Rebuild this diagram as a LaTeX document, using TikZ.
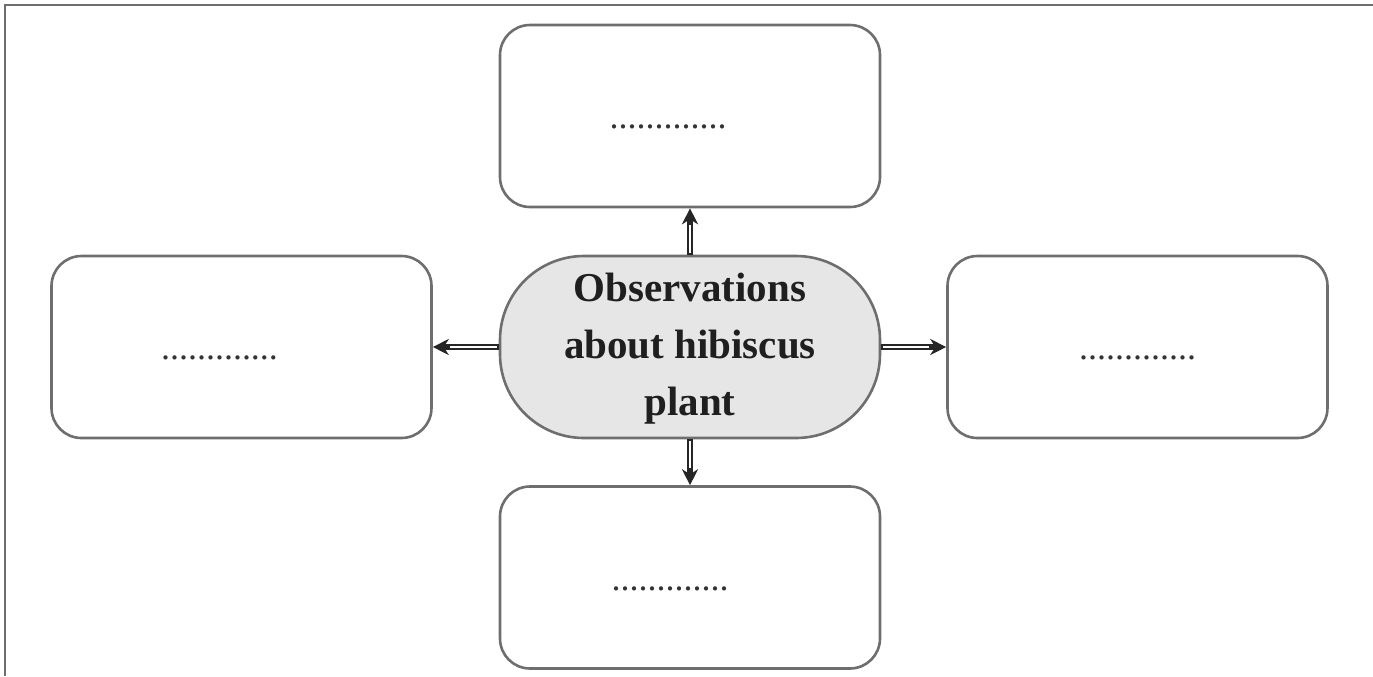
\documentclass[tikz,border=0pt]{standalone}
\usepackage{fontspec}
\setmainfont{Liberation Serif}
\usetikzlibrary{arrows.meta}
\definecolor{edge}{HTML}{6E6E6E}
\definecolor{centerfill}{HTML}{E6E6E6}
\tikzset{
  obox/.style={draw=edge, line width=1.3pt, rounded corners=15pt, fill=white,
    minimum width=190pt, minimum height=91pt, inner sep=0pt,
    font=\fontsize{18}{20}\selectfont, text=black!80},
  cbox/.style={draw=edge, line width=1.3pt, rounded corners=42pt, fill=centerfill,
    minimum width=190pt, minimum height=91pt, inner sep=0pt, align=center,
    font=\fontsize{20.5}{28.5}\selectfont\bfseries, text=black!88},
  link/.style={draw=black!85, line width=2.8pt, -{Stealth[length=8pt, width=8pt]},
    postaction={draw=white, line width=1.1pt, -, shorten >=8.5pt, shorten <=1pt}},
}
\newcommand{\dotsline}[1]{\raisebox{-13pt}{\makebox[0pt]{\hspace*{#1}.............}}}
\begin{document}
\begin{tikzpicture}[x=0.5pt, y=-0.5pt]
\useasboundingbox (0,0) rectangle (1373,676);
\draw[edge, line width=1pt] (5,676) -- (5,5) -- (1373,5);
\node[cbox] (c) at (690,347) {\raisebox{-1.5pt}{\begin{tabular}{@{}c@{}}Observations\\about hibiscus\\plant\end{tabular}}};
\node[obox] (t) at (690,116) {\dotsline{-22pt}};
\node[obox] (l) at (241.5,347) {\dotsline{-22pt}};
\node[obox] (r) at (1137.5,347) {\dotsline{0pt}};
\node[obox] (b) at (690,577.5) {\dotsline{-20pt}};
\draw[link] (c.north) -- (t.south);
\draw[link] (c.south) -- (b.north);
\draw[link] (c.west) -- (l.east);
\draw[link] (c.east) -- (r.west);
\end{tikzpicture}
\end{document}
